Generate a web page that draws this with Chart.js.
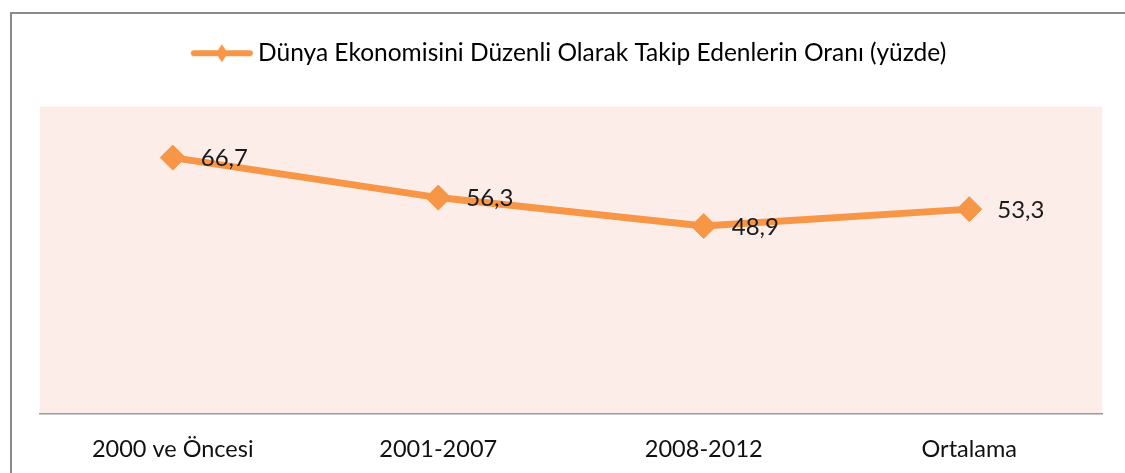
<!DOCTYPE html>
<html>
<head>
<meta charset="utf-8">
<script src="https://cdn.jsdelivr.net/npm/chart.js@4"></script>
<style>
  html, body { margin: 0; padding: 0; background: #fff; overflow: hidden; }
  #frame {
    position: absolute; left: 10px; top: 12px;
    width: 1200px; height: 520px;
    border-left: 2px solid #8a8a8a; border-top: 2px solid #8a8a8a;
  }
  #wrap { position: absolute; left: 0; top: 0; width: 1125px; height: 473px; }
</style>
</head>
<body>
<div id="frame"></div>
<div id="wrap"><canvas id="lineChart" width="1125" height="473"></canvas></div>
<script>
const categories = ['2000 ve Öncesi', '2001-2007', '2008-2012', 'Ortalama'];
const shares = [66.7, 56.3, 48.9, 53.3];
const seriesName = 'Dünya Ekonomisini Düzenli Olarak Takip Edenlerin Oranı (yüzde)';

const ORANGE = '#F79646';
const PLOT_BG = '#FCEDE8';
const FONT = 'Lato, "Open Sans", sans-serif';

// legend marker: line with a small diamond in the middle
function legendMarker() {
  const c = document.createElement('canvas');
  c.width = 66; c.height = 20;
  const g = c.getContext('2d');
  g.strokeStyle = ORANGE;
  g.lineWidth = 6;
  g.lineCap = 'round';
  g.beginPath(); g.moveTo(6, 10); g.lineTo(62, 10); g.stroke();
  g.fillStyle = ORANGE;
  g.beginPath();
  g.moveTo(34, 1); g.lineTo(40, 10); g.lineTo(34, 19); g.lineTo(28, 10);
  g.closePath(); g.fill();
  return c;
}

const plotBackground = {
  id: 'plotBackground',
  beforeDraw(chart) {
    const { ctx, chartArea: a } = chart;
    ctx.save();
    ctx.fillStyle = PLOT_BG;
    ctx.fillRect(a.left, a.top, a.right - a.left, a.bottom - a.top);
    ctx.restore();
  }
};

const legendGap = {
  id: 'legendGap',
  beforeInit(chart) {
    const fit = chart.legend.fit;
    chart.legend.fit = function () {
      fit.call(this);
      this.height += 31;
    };
  }
};

const valueLabels = {
  id: 'valueLabels',
  afterDatasetsDraw(chart) {
    const { ctx } = chart;
    const meta = chart.getDatasetMeta(0);
    ctx.save();
    ctx.font = '24px ' + FONT;
    ctx.fillStyle = '#1a1a1a';
    ctx.textAlign = 'left';
    ctx.textBaseline = 'middle';
    meta.data.forEach((pt, i) => {
      ctx.fillText(shares[i].toFixed(1).replace('.', ','), pt.x + 28, pt.y + 1);
    });
    ctx.restore();
  }
};

const marker = legendMarker();

new Chart(document.getElementById('lineChart'), {
  type: 'line',
  data: {
    labels: categories,
    datasets: [{
      label: seriesName,
      data: shares,
      borderColor: ORANGE,
      backgroundColor: ORANGE,
      borderWidth: 7,
      pointStyle: 'rectRot',
      pointRadius: 12.5,
      pointBorderWidth: 1,
      pointBackgroundColor: ORANGE,
      pointBorderColor: ORANGE,
      tension: 0
    }]
  },
  options: {
    responsive: false,
    animation: false,
    devicePixelRatio: 1,
    layout: { padding: { left: 40, right: 23, top: 31, bottom: 0 } },
    scales: {
      x: {
        offset: true,
        grid: { display: false },
        border: { display: true, color: '#9a9a9a', width: 1.5 },
        ticks: { font: { family: FONT, size: 23.5 }, color: '#111', padding: 13 },
        afterFit: scale => { scale.height = 59; }
      },
      y: {
        display: false,
        min: 0,
        max: 80
      }
    },
    plugins: {
      legend: {
        position: 'top',
        labels: {
          usePointStyle: true,
          pointStyleWidth: 50,
          font: { family: FONT, size: 24.5 },
          color: '#111',
          padding: 10,
          generateLabels: () => [{
            text: seriesName,
            pointStyle: marker,
            fillStyle: ORANGE,
            strokeStyle: ORANGE,
            lineWidth: 0,
            datasetIndex: 0
          }]
        }
      },
      tooltip: { enabled: false }
    }
  },
  plugins: [plotBackground, legendGap, valueLabels]
});
</script>
</body>
</html>
